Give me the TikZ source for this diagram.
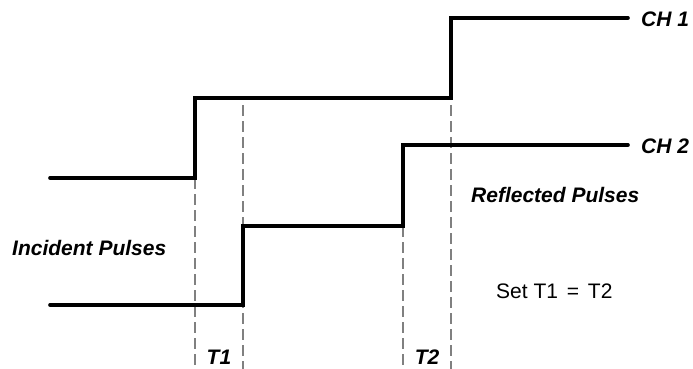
\documentclass[tikz,border=0pt]{standalone}
\usepackage{fontspec}
\setmainfont{Liberation Sans}
\begin{document}
\begin{tikzpicture}[x=1pt,y=-1pt,
  trace/.style={line width=3.6pt, line cap=round, line join=miter},
  guide/.style={gray, line width=1.2pt, dash pattern=on 11pt off 5pt},
  lbl/.style={inner sep=0pt, font=\fontsize{21}{25}\selectfont\bfseries\itshape},
  plain/.style={inner sep=0pt, font=\fontsize{21}{25}\selectfont}]
\useasboundingbox (0,0) rectangle (693,369);
% CH1 trace
\coordinate (a0) at (50,178);
\coordinate (a1) at (195,178);
\coordinate (a2) at (195,98);
\coordinate (a3) at (451,98);
\coordinate (a4) at (451,18);
\coordinate (a5) at (628,18);
% CH2 trace
\coordinate (b0) at (50,305);
\coordinate (b1) at (243,305);
\coordinate (b2) at (243,226);
\coordinate (b3) at (403,226);
\coordinate (b4) at (403,145);
\coordinate (b5) at (628,145);
% guide ends
\coordinate (g1) at (195,369);
\coordinate (g2t) at (243,105);
\coordinate (g2) at (243,369);
\coordinate (g3) at (403,369);
\coordinate (g4t) at (451,105);
\coordinate (g4) at (451,369);
\draw[guide] (a1) -- (g1);
\draw[guide] (g2t) -- (g2);
\draw[guide] (b3) -- (g3);
\draw[guide] (g4t) -- (g4);
\draw[trace] (a0) -- (a1) -- (a2) -- (a3) -- (a4) -- (a5);
\draw[trace] (b0) -- (b1) -- (b2) -- (b3) -- (b4) -- (b5);
\node[lbl, anchor=west] (ch1) at (641,19) {CH 1};
\node[lbl, anchor=west] (ch2) at (641,146) {CH 2};
\node[lbl, anchor=west] (inc) at (12,248) {Incident Pulses};
\node[lbl, anchor=west] (ref) at (471,195) {Reflected Pulses};
\node[plain, anchor=west] (set) at (496,291) {Set T1\hspace{3pt} = \hspace{3pt}T2};
\node[lbl] (t1) at (219,357) {T1};
\node[lbl] (t2) at (427,357) {T2};
\end{tikzpicture}
\end{document}
